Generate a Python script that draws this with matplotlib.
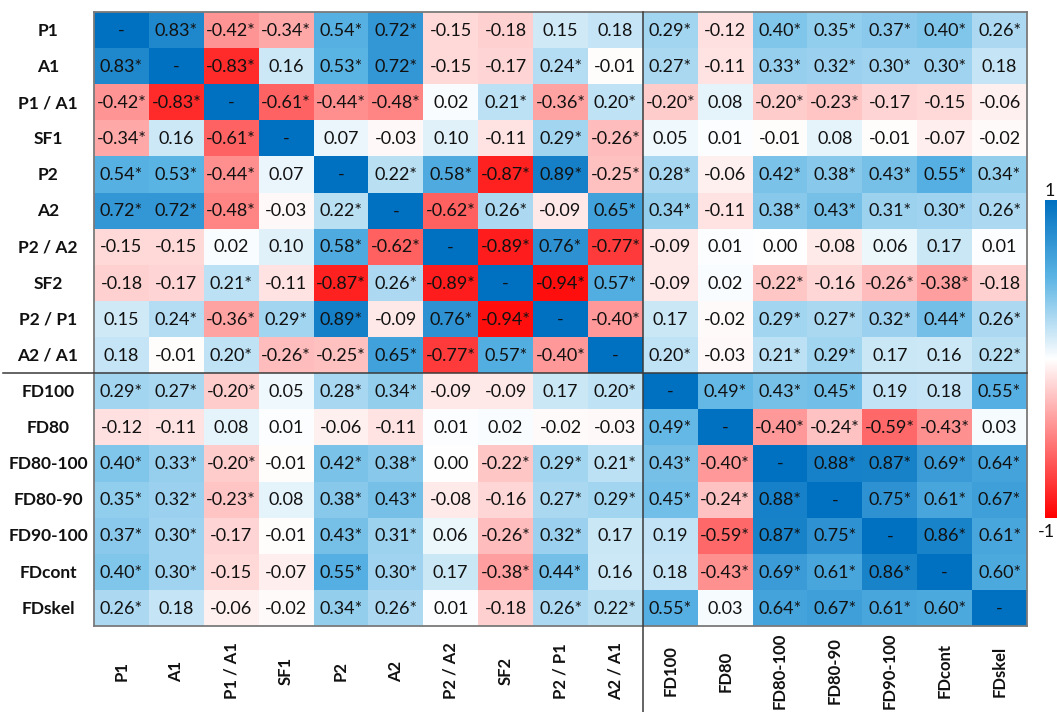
import numpy as np
import matplotlib
matplotlib.use("Agg")
import matplotlib.pyplot as plt
from matplotlib.colors import LinearSegmentedColormap
from matplotlib import transforms

plt.rcParams["font.family"] = ["Lato", "DejaVu Sans"]

variables = ["P1", "A1", "P1 / A1", "SF1", "P2", "A2", "P2 / A2", "SF2",
             "P2 / P1", "A2 / A1", "FD100", "FD80", "FD80-100", "FD80-90",
             "FD90-100", "FDcont", "FDskel"]

# Correlation coefficients (diagonal left empty)
nan = np.nan
r_p1 = [nan, 0.83, -0.42, -0.34, 0.54, 0.72, -0.15, -0.18, 0.15, 0.18, 0.29, -0.12, 0.40, 0.35, 0.37, 0.40, 0.26]
r_a1 = [0.83, nan, -0.83, 0.16, 0.53, 0.72, -0.15, -0.17, 0.24, -0.01, 0.27, -0.11, 0.33, 0.32, 0.30, 0.30, 0.18]
r_p1a1 = [-0.42, -0.83, nan, -0.61, -0.44, -0.48, 0.02, 0.21, -0.36, 0.20, -0.20, 0.08, -0.20, -0.23, -0.17, -0.15, -0.06]
r_sf1 = [-0.34, 0.16, -0.61, nan, 0.07, -0.03, 0.10, -0.11, 0.29, -0.26, 0.05, 0.01, -0.01, 0.08, -0.01, -0.07, -0.02]
r_p2 = [0.54, 0.53, -0.44, 0.07, nan, 0.22, 0.58, -0.87, 0.89, -0.25, 0.28, -0.06, 0.42, 0.38, 0.43, 0.55, 0.34]
r_a2 = [0.72, 0.72, -0.48, -0.03, 0.22, nan, -0.62, 0.26, -0.09, 0.65, 0.34, -0.11, 0.38, 0.43, 0.31, 0.30, 0.26]
r_p2a2 = [-0.15, -0.15, 0.02, 0.10, 0.58, -0.62, nan, -0.89, 0.76, -0.77, -0.09, 0.01, 0.00, -0.08, 0.06, 0.17, 0.01]
r_sf2 = [-0.18, -0.17, 0.21, -0.11, -0.87, 0.26, -0.89, nan, -0.94, 0.57, -0.09, 0.02, -0.22, -0.16, -0.26, -0.38, -0.18]
r_p2p1 = [0.15, 0.24, -0.36, 0.29, 0.89, -0.09, 0.76, -0.94, nan, -0.40, 0.17, -0.02, 0.29, 0.27, 0.32, 0.44, 0.26]
r_a2a1 = [0.18, -0.01, 0.20, -0.26, -0.25, 0.65, -0.77, 0.57, -0.40, nan, 0.20, -0.03, 0.21, 0.29, 0.17, 0.16, 0.22]
r_fd100 = [0.29, 0.27, -0.20, 0.05, 0.28, 0.34, -0.09, -0.09, 0.17, 0.20, nan, 0.49, 0.43, 0.45, 0.19, 0.18, 0.55]
r_fd80 = [-0.12, -0.11, 0.08, 0.01, -0.06, -0.11, 0.01, 0.02, -0.02, -0.03, 0.49, nan, -0.40, -0.24, -0.59, -0.43, 0.03]
r_fd80_100 = [0.40, 0.33, -0.20, -0.01, 0.42, 0.38, 0.00, -0.22, 0.29, 0.21, 0.43, -0.40, nan, 0.88, 0.87, 0.69, 0.64]
r_fd80_90 = [0.35, 0.32, -0.23, 0.08, 0.38, 0.43, -0.08, -0.16, 0.27, 0.29, 0.45, -0.24, 0.88, nan, 0.75, 0.61, 0.67]
r_fd90_100 = [0.37, 0.30, -0.17, -0.01, 0.43, 0.31, 0.06, -0.26, 0.32, 0.17, 0.19, -0.59, 0.87, 0.75, nan, 0.86, 0.61]
r_fdcont = [0.40, 0.30, -0.15, -0.07, 0.55, 0.30, 0.17, -0.38, 0.44, 0.16, 0.18, -0.43, 0.69, 0.61, 0.86, nan, 0.60]
r_fdskel = [0.26, 0.18, -0.06, -0.02, 0.34, 0.26, 0.01, -0.18, 0.26, 0.22, 0.55, 0.03, 0.64, 0.67, 0.61, 0.60, nan]

# Significance flags (1 = marked with an asterisk)
s_p1 =       "01111100001011111"
s_a1 =       "10101100101011110"
s_p1a1 =     "11011101111011000"
s_sf1 =      "10100000110000000"
s_p2 =       "11100111111011111"
s_a2 =       "11101011011011111"
s_p2a2 =     "00001101110000000"
s_sf2 =      "00101110110010110"
s_p2p1 =     "01111011010011111"
s_a2a1 =     "00111111101011001"
s_fd100 =    "11101100010111001"
s_fd80 =     "00000000001011110"
s_fd80_100 = "11101101111101111"
s_fd80_90 =  "11101100111110111"
s_fd90_100 = "11001101100111011"
s_fdcont =   "11001101100111101"
s_fdskel =   "10001100111011110"

r = np.array([r_p1, r_a1, r_p1a1, r_sf1, r_p2, r_a2, r_p2a2, r_sf2, r_p2p1,
              r_a2a1, r_fd100, r_fd80, r_fd80_100, r_fd80_90, r_fd90_100,
              r_fdcont, r_fdskel])
sig = [s_p1, s_a1, s_p1a1, s_sf1, s_p2, s_a2, s_p2a2, s_sf2, s_p2p1, s_a2a1,
       s_fd100, s_fd80, s_fd80_100, s_fd80_90, s_fd90_100, s_fdcont, s_fdskel]

n = len(variables)
# diagonal cells are shown at full positive correlation
shade = np.where(np.isnan(r), 1.0, r)

cmap = LinearSegmentedColormap.from_list(
    "red_white_blue",
    [(0.0, (1.0, 0.0, 0.0)),
     (0.5, (1.0, 1.0, 1.0)),
     (0.76, (91 / 255, 180 / 255, 228 / 255)),
     (1.0, (0 / 255, 112 / 255, 192 / 255))])

W, H = 1057, 712
fig = plt.figure(figsize=(W / 100, H / 100), dpi=100)
L, R, T, B = 94, 1027, 12, 626
ax = fig.add_axes([L / W, 1 - B / H, (R - L) / W, (B - T) / H])

ax.pcolormesh(np.arange(n + 1), np.arange(n + 1), shade, cmap=cmap,
              vmin=-1, vmax=1, shading="flat")
ax.set_xlim(0, n)
ax.set_ylim(n, 0)
ax.set_xticks([])
ax.set_yticks([])
for sp in ax.spines.values():
    sp.set_color("#7a7a7a")
    sp.set_linewidth(1.3)

txt_color = "#111111"
for i in range(n):
    for j in range(n):
        if np.isnan(r[i, j]):
            label = "-"
        else:
            label = f"{r[i, j]:.2f}" + ("*" if sig[i][j] == "1" else "")
        ax.text(j + 0.5, i + 0.52, label, ha="center", va="center",
                fontsize=13, color=txt_color)

# row labels
row_tr = transforms.blended_transform_factory(fig.transFigure, ax.transData)
for i, name in enumerate(variables):
    ax.text(48 / W, i + 0.52, name, transform=row_tr, ha="center",
            va="center", fontsize=12.5, fontweight="bold", color=txt_color)

# column labels
col_tr = transforms.blended_transform_factory(ax.transData, fig.transFigure)
for j, name in enumerate(variables):
    ax.text(j + 0.5, 1 - 671 / H, name, transform=col_tr, rotation=90,
            ha="center", va="center", fontsize=12, fontweight="bold",
            color=txt_color)

# separators between morphology and fractal groups
split = 10
ax.plot([3 / W, R / W], [split, split], transform=row_tr, color="#3a3a3a",
        lw=1.1, clip_on=False, zorder=5)
ax.plot([split, split], [1 - T / H, 0], transform=col_tr, color="#3a3a3a",
        lw=1.1, clip_on=False, zorder=5)

# colour bar
cax = fig.add_axes([1045 / W, 1 - 518 / H, 12 / W, (518 - 200) / H])
grad = np.linspace(1, -1, 256).reshape(-1, 1)
cax.imshow(grad, cmap=cmap, vmin=-1, vmax=1, aspect="auto",
           extent=[0, 1, -1, 1])
cax.set_axis_off()
fig.text(1050 / W, 1 - 191 / H, "1", ha="center", va="center", fontsize=13,
         color=txt_color)
fig.text(1055 / W, 1 - 532 / H, "-1", ha="right", va="center", fontsize=13,
         color=txt_color)

fig.savefig("out.png", dpi=100)
